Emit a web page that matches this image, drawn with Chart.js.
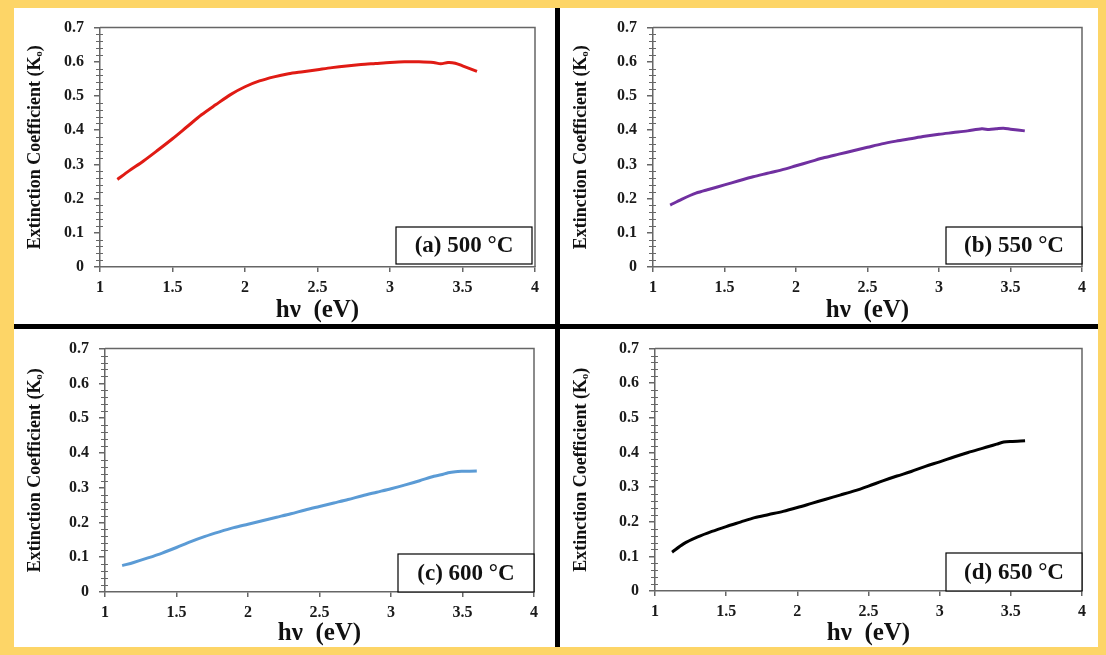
<!DOCTYPE html>
<html>
<head>
<meta charset="utf-8">
<script src="https://cdn.jsdelivr.net/npm/chart.js@4.4.0/dist/chart.umd.min.js"></script>
<style>
    html, body { margin: 0; padding: 0; }
    body { width: 1106px; height: 655px; background: #fdd567; position: relative; overflow: hidden; }
    #sheet { position: absolute; left: 14px; top: 8px; width: 1084px; height: 639px; background: #fff; }
    .hbar { position: absolute; left: 14px; top: 324px; width: 1084px; height: 5px; background: #000; }
    .vbar { position: absolute; left: 555px; top: 8px; width: 5px; height: 639px; background: #000; }
    canvas { position: absolute; }
</style>
</head>
<body>
<div id="sheet"></div>
<canvas id="chart-a"></canvas>
<canvas id="chart-b"></canvas>
<canvas id="chart-c"></canvas>
<canvas id="chart-d"></canvas>
<div class="hbar"></div>
<div class="vbar"></div>

<script>
// photon energy hv (eV)
const energy = [1.12, 1.2, 1.3, 1.4, 1.5, 1.6, 1.7, 1.8, 1.9, 2.0, 2.1, 2.2, 2.3, 2.4,
                2.5, 2.6, 2.7, 2.8, 2.9, 3.0, 3.1, 3.2, 3.3, 3.35, 3.4, 3.45, 3.5, 3.6];

// extinction coefficient for each annealing temperature
const k500 = [0.256, 0.281, 0.310, 0.342, 0.375, 0.410, 0.445, 0.475, 0.504, 0.527, 0.544, 0.556,
              0.565, 0.571, 0.577, 0.583, 0.588, 0.592, 0.595, 0.598, 0.600, 0.600, 0.598, 0.594,
              0.598, 0.596, 0.588, 0.572];
const k550 = [0.181, 0.198, 0.216, 0.228, 0.240, 0.252, 0.264, 0.274, 0.284, 0.296, 0.308, 0.320,
              0.330, 0.340, 0.350, 0.360, 0.368, 0.375, 0.382, 0.388, 0.393, 0.398, 0.404, 0.402,
              0.404, 0.406, 0.403, 0.398];
const k600 = [0.076, 0.085, 0.098, 0.112, 0.128, 0.145, 0.160, 0.173, 0.185, 0.195, 0.205, 0.215,
              0.225, 0.236, 0.246, 0.256, 0.266, 0.277, 0.287, 0.297, 0.308, 0.320, 0.333, 0.337,
              0.343, 0.346, 0.347, 0.348];
const k650 = [0.112, 0.136, 0.156, 0.172, 0.186, 0.199, 0.212, 0.221, 0.230, 0.241, 0.253, 0.265,
              0.277, 0.289, 0.303, 0.318, 0.332, 0.345, 0.360, 0.373, 0.387, 0.400, 0.412, 0.418,
              0.424, 0.430, 0.432, 0.434];

const panelLabels = ['(a) 500 °C', '(b) 550 °C', '(c) 600 °C', '(d) 650 °C'];
const lineColors = ['#e01b14', '#7030a0', '#5b9bd5', '#000000'];
const seriesList = [k500, k550, k600, k650];

const xTitle = 'hν  (eV)';
const yTitle = 'Extinction Coefficient (Kₒ)';

const SERIF = '"Liberation Serif", "DejaVu Serif", serif';
const AXIS_GREY = '#666666';

// where each panel sits on the page
const panels = [
    { id: 'chart-a', left: 14,  top: 8,   w: 541, h: 316, axisLeft: 86, padTop: 13, padRight: 20, axisBottom: 57, boxRight: 3, boxBottom: 3, boxH: 37 },
    { id: 'chart-b', left: 560, top: 8,   w: 538, h: 316, axisLeft: 93, padTop: 13, padRight: 16, axisBottom: 57, boxRight: 0, boxBottom: 3, boxH: 37 },
    { id: 'chart-c', left: 14,  top: 329, w: 541, h: 318, axisLeft: 91, padTop: 16, padRight: 21, axisBottom: 55, boxRight: 0, boxBottom: 0, boxH: 38 },
    { id: 'chart-d', left: 560, top: 329, w: 538, h: 318, axisLeft: 95, padTop: 16, padRight: 16, axisBottom: 56, boxRight: 0, boxBottom: 0, boxH: 38 }
];

// frame, minor ticks and the label box
const panelDecor = {
    id: 'panelDecor',
    afterDraw(chart, args, opts) {
        const { ctx, chartArea: a, scales } = chart;
        ctx.save();

        // top and right edges of the frame
        ctx.strokeStyle = AXIS_GREY;
        ctx.lineWidth = 1.5;
        ctx.beginPath();
        ctx.moveTo(a.left, a.top);
        ctx.lineTo(a.right, a.top);
        ctx.lineTo(a.right, a.bottom);
        ctx.stroke();

        // minor ticks on y every 0.02
        ctx.lineWidth = 1;
        ctx.beginPath();
        for (let i = 1; i < 35; i++) {
            if (i % 5 === 0) continue;
            const y = Math.round(scales.y.getPixelForValue(i * 0.02)) + 0.5;
            ctx.moveTo(a.left - 4, y);
            ctx.lineTo(a.left + 3, y);
        }
        ctx.stroke();

        // label box in lower right corner
        const bw = 136, bh = opts.boxH;
        const bx = a.right - opts.boxRight - bw;
        const by = a.bottom - opts.boxBottom - bh;
        ctx.fillStyle = '#fff';
        ctx.fillRect(bx, by, bw, bh);
        ctx.strokeStyle = '#000';
        ctx.lineWidth = 1.2;
        ctx.strokeRect(bx, by, bw, bh);
        ctx.fillStyle = '#111';
        ctx.font = 'bold 23px ' + SERIF;
        ctx.textAlign = 'center';
        ctx.textBaseline = 'middle';
        ctx.fillText(opts.label, bx + bw / 2, by + bh / 2 + 1);
        ctx.restore();
    }
};

function makeChart(p, index) {
    const canvas = document.getElementById(p.id);
    canvas.width = p.w;
    canvas.height = p.h;
    canvas.style.left = p.left + 'px';
    canvas.style.top = p.top + 'px';

    const values = seriesList[index];

    return new Chart(canvas.getContext('2d'), {
        type: 'line',
        data: {
            datasets: [{
                data: energy.map((e, i) => ({ x: e, y: values[i] })),
                borderColor: lineColors[index],
                borderWidth: 3,
                pointRadius: 0,
                tension: 0.3,
                fill: false
            }]
        },
        options: {
            responsive: false,
            animation: false,
            layout: { padding: { top: p.padTop, right: p.padRight, left: 0, bottom: 0 } },
            plugins: {
                legend: { display: false },
                tooltip: { enabled: false },
                panelDecor: { label: panelLabels[index], boxRight: p.boxRight, boxBottom: p.boxBottom, boxH: p.boxH }
            },
            scales: {
                x: {
                    type: 'linear',
                    min: 1,
                    max: 4,
                    afterFit: s => { s.height = p.axisBottom; },
                    ticks: {
                        stepSize: 0.5,
                        padding: 6,
                        color: '#1a1a1a',
                        maxRotation: 0,
                        font: { family: SERIF, size: 16, weight: 'bold' },
                        callback: v => String(Math.round(v * 10) / 10)
                    },
                    grid: { drawOnChartArea: false, tickLength: 5, color: AXIS_GREY, lineWidth: 1.5 },
                    border: { color: AXIS_GREY, width: 1.5 },
                    title: {
                        display: true,
                        text: xTitle,
                        color: '#111',
                        padding: { top: 0, bottom: -2 },
                        font: { family: SERIF, size: 25, weight: 'bold' }
                    }
                },
                y: {
                    min: 0,
                    max: 0.7,
                    afterFit: s => { s.width = p.axisLeft; },
                    ticks: {
                        stepSize: 0.1,
                        padding: 10,
                        color: '#1a1a1a',
                        font: { family: SERIF, size: 16, weight: 'bold' },
                        callback: v => (Math.abs(v) < 1e-9 ? '0' : v.toFixed(1))
                    },
                    grid: { drawOnChartArea: false, tickLength: 6, color: AXIS_GREY, lineWidth: 1.5 },
                    border: { color: AXIS_GREY, width: 1.5 },
                    title: {
                        display: true,
                        text: yTitle,
                        color: '#111',
                        padding: { top: 11, bottom: 0 },
                        font: { family: SERIF, size: 18, weight: 'bold' }
                    }
                }
            }
        },
        plugins: [panelDecor]
    });
}

window.charts = panels.map(makeChart);
</script>
</body>
</html>
